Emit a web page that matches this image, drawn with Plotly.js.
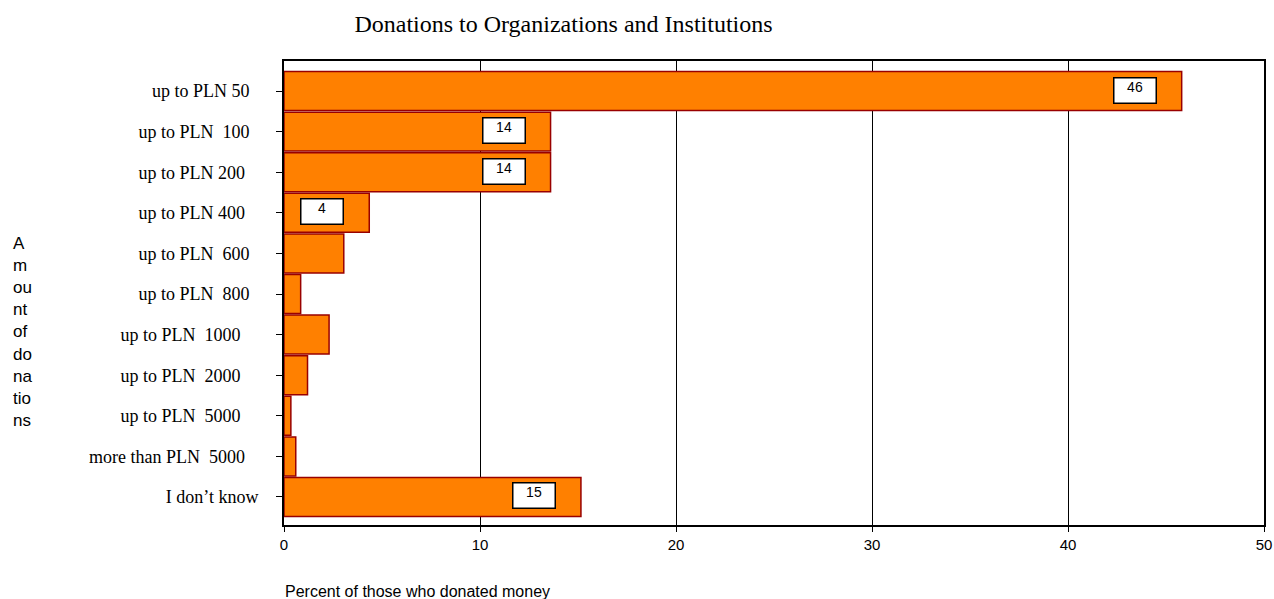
<!DOCTYPE html>
<html>
<head>
<meta charset="utf-8">
<script src="https://cdn.plot.ly/plotly-3.0.1.min.js"></script>
<style>html,body{margin:0;padding:0;background:#fff;}#chart{width:1274px;height:599px;}</style>
</head>
<body>
<div id="chart"></div>
<script>
const categories = [
  "up to PLN 50", "up to PLN  100", "up to PLN 200", "up to PLN 400",
  "up to PLN  600", "up to PLN  800", "up to PLN  1000", "up to PLN  2000",
  "up to PLN  5000", "more than PLN  5000", "I don’t know"
];
const tickLabels = [
  "up to PLN 50\u00a0\u00a0", "up to PLN\u00a0\u00a0100\u00a0\u00a0", "up to PLN 200\u00a0\u00a0\u00a0", "up to PLN 400\u00a0\u00a0\u00a0",
  "up to PLN\u00a0\u00a0600\u00a0\u00a0", "up to PLN\u00a0\u00a0800\u00a0\u00a0", "up to PLN\u00a0\u00a01000\u00a0\u00a0\u00a0\u00a0", "up to PLN\u00a0\u00a02000\u00a0\u00a0\u00a0\u00a0",
  "up to PLN\u00a0\u00a05000\u00a0\u00a0\u00a0\u00a0", "more than PLN\u00a0\u00a05000\u00a0\u00a0\u00a0", "I don’t know"
];
const percentValues = [45.8, 13.6, 13.6, 4.35, 3.05, 0.85, 2.3, 1.2, 0.35, 0.6, 15.15];
const valueLabels = ["46", "14", "14", "4", "", "", "", "", "", "", "15"];
const xTicks = [0, 10, 20, 30, 40, 50];

const trace = {
  type: "bar",
  orientation: "h",
  y: categories.map((c, i) => i),
  x: percentValues,
  marker: { color: "#FF8000", line: { color: "#990000", width: 1.5 } },
  hoverinfo: "x+y"
};

const annotations = [];
valueLabels.forEach((t, i) => {
  if (!t) return;
  annotations.push({
    x: percentValues[i], y: i, xref: "x", yref: "y",
    text: t, showarrow: false, xanchor: "center", yanchor: "middle",
    xshift: -47, yshift: 1,
    width: 41, height: 24, valign: "top",
    bgcolor: "#ffffff", bordercolor: "#000000", borderwidth: 1.5, borderpad: 0,
    font: { family: "Liberation Sans, Arial, sans-serif", size: 14, color: "#000" }
  });
});
annotations.push({
  xref: "paper", yref: "paper", x: -0.279, y: 0.416, xanchor: "left", yanchor: "middle",
  align: "left", showarrow: false,
  text: "A<br>m<br>ou<br>nt<br>of<br>do<br>na<br>tio<br>ns",
  font: { family: "Liberation Sans, Arial, sans-serif", size: 17, color: "#000" }
});
annotations.push({
  xref: "paper", yref: "paper", x: -0.001, y: -0.144, xanchor: "left", yanchor: "middle",
  showarrow: false, text: "Percent of those who donated money",
  font: { family: "Liberation Sans, Arial, sans-serif", size: 16, color: "#000" }
});

const layout = {
  width: 1274, height: 599,
  margin: { l: 284, r: 10, t: 61, b: 74 },
  paper_bgcolor: "#fff", plot_bgcolor: "#fff",
  showlegend: false,
  bargap: 0.04,
  title: {
    text: "Donations to Organizations and Institutions",
    xref: "container", yref: "container", x: 0.4423, y: 0.96, xanchor: "center", yanchor: "middle",
    font: { family: "Liberation Serif, Times New Roman, serif", size: 24, color: "#000" }
  },
  xaxis: {
    range: [0, 50], tickvals: xTicks, ticktext: xTicks.map(String),
    showgrid: true, gridcolor: "#000", gridwidth: 1,
    showline: true, linecolor: "#000", linewidth: 2, mirror: true,
    ticks: "outside", ticklen: 5, tickcolor: "#000",
    zeroline: false,
    tickfont: { family: "Liberation Sans, Arial, sans-serif", size: 15, color: "#000" }
  },
  yaxis: {
    range: [10.69, -0.74],
    tickvals: categories.map((c, i) => i), ticktext: tickLabels,
    showgrid: false, zeroline: false,
    showline: true, linecolor: "#000", linewidth: 2, mirror: true,
    ticks: "outside", ticklen: 6, tickcolor: "#000", ticklabelstandoff: 14,
    tickfont: { family: "Liberation Serif, Times New Roman, serif", size: 18, color: "#000" }
  },
  annotations: annotations
};

Plotly.newPlot("chart", [trace], layout, { displayModeBar: false, staticPlot: true });
</script>
</body>
</html>
